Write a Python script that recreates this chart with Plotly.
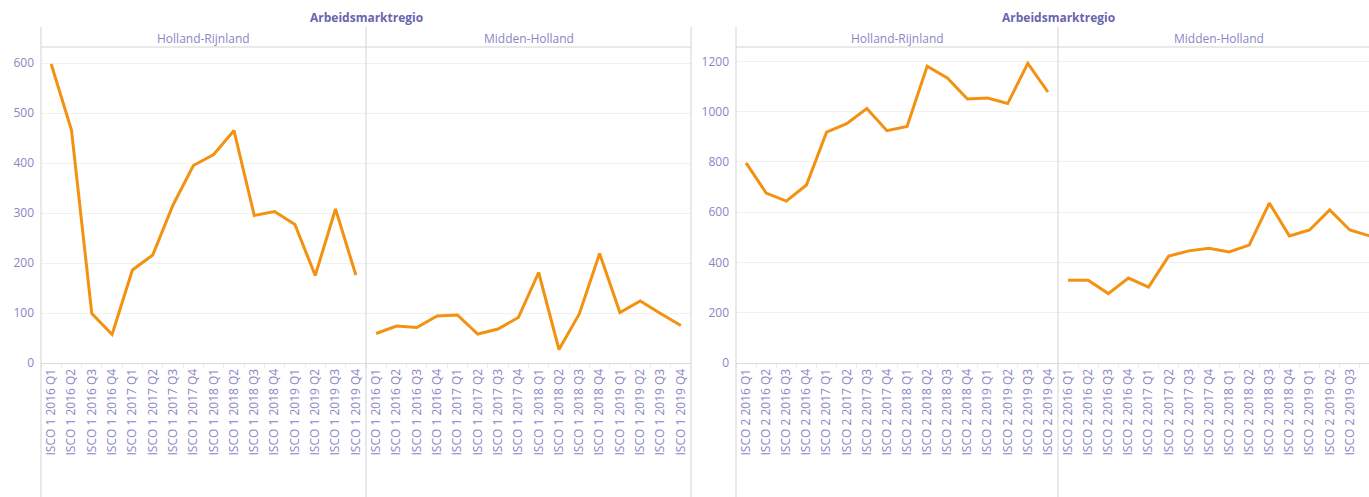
import plotly.graph_objects as go

W, H = 1369, 497

quarters = ["2016 Q1", "2016 Q2", "2016 Q3", "2016 Q4",
            "2017 Q1", "2017 Q2", "2017 Q3", "2017 Q4",
            "2018 Q1", "2018 Q2", "2018 Q3", "2018 Q4",
            "2019 Q1", "2019 Q2", "2019 Q3", "2019 Q4"]
isco1_labels = ["ISCO 1 " + q for q in quarters]
isco2_labels = ["ISCO 2 " + q for q in quarters]

regions = ["Holland-Rijnland", "Midden-Holland"]
group_title = "Arbeidsmarktregio"

hr_isco1 = [598, 466, 99, 57, 186, 216, 316, 395, 417, 465, 295, 303, 277, 175, 308, 176]
mh_isco1 = [59, 74, 71, 94, 96, 58, 68, 91, 181, 27, 98, 219, 101, 124, 99, 75]
hr_isco2 = [796, 676, 644, 708, 918, 952, 1012, 924, 941, 1181, 1134, 1050, 1054, 1032, 1192, 1078]
mh_isco2 = [329, 329, 276, 338, 302, 425, 446, 456, 442, 469, 636, 505, 529, 609, 529, 505]

left_ticks = [0, 100, 200, 300, 400, 500, 600]
right_ticks = [0, 200, 400, 600, 800, 1000, 1200]

ORANGE = "#f39110"
TXT = "#8a86c4"
TITLE = "#6a64ad"
GRID = "#f1f1f1"
SEP = "#d3d3d3"
FONT = "Open Sans"

def px(x):
    return x / W

def py(y):
    return 1 - y / H

fig = go.Figure()
fig.add_trace(go.Scatter(x=isco1_labels, y=hr_isco1, xaxis="x", yaxis="y",
                         mode="lines", line=dict(color=ORANGE, width=3)))
fig.add_trace(go.Scatter(x=isco1_labels, y=mh_isco1, xaxis="x2", yaxis="y",
                         mode="lines", line=dict(color=ORANGE, width=3)))
fig.add_trace(go.Scatter(x=isco2_labels, y=hr_isco2, xaxis="x3", yaxis="y2",
                         mode="lines", line=dict(color=ORANGE, width=3)))
fig.add_trace(go.Scatter(x=isco2_labels, y=mh_isco2, xaxis="x4", yaxis="y2",
                         mode="lines", line=dict(color=ORANGE, width=3)))

ydom = [py(363), py(47)]
panels = [(41, 366), (366, 691), (736, 1058), (1058, 1369)]
band = 322 / 16

def xaxis_cfg(dom, anchor, rng):
    return dict(domain=[px(dom[0]), px(dom[1])], anchor=anchor, type="category",
                range=rng, showgrid=False, zeroline=False, automargin=False,
                showline=True, linecolor="#dcdcdc", linewidth=1,
                ticks="outside", tickson="boundaries", ticklen=4, tickcolor="#ececec",
                tickangle=-90, tickfont=dict(family=FONT, size=12, color=TXT),
                fixedrange=True)

def yaxis_cfg(anchor, rng, tv):
    return dict(domain=ydom, anchor=anchor, range=rng, tickvals=tv, automargin=False,
                showgrid=True, gridcolor=GRID, gridwidth=1, zeroline=False,
                showline=False, ticks="", ticklabelstandoff=6,
                tickfont=dict(family=FONT, size=12, color=TXT), fixedrange=True)

fig.update_layout(
    width=W, height=H, margin=dict(l=0, r=0, t=0, b=0, pad=0),
    paper_bgcolor="white", plot_bgcolor="white", showlegend=False,
    xaxis=xaxis_cfg(panels[0], "y", [-0.5, 15.5]),
    xaxis2=xaxis_cfg(panels[1], "y", [-0.5, 15.5]),
    xaxis3=xaxis_cfg(panels[2], "y2", [-0.5, 15.5]),
    xaxis4=xaxis_cfg(panels[3], "y2", [-0.5, -0.5 + (1369 - 1058) / band]),
    yaxis=yaxis_cfg("x", [0, 632], left_ticks),
    yaxis2=yaxis_cfg("x3", [0, 1257], right_ticks),
)

shapes = []
for xv in [41, 366, 691, 736, 1058]:
    shapes.append(dict(type="line", xref="paper", yref="paper",
                       x0=px(xv), x1=px(xv), y0=0, y1=py(27),
                       line=dict(color=SEP, width=1)))
for a, b in [(41, 691), (736, 1369)]:
    shapes.append(dict(type="line", xref="paper", yref="paper",
                       x0=px(a), x1=px(b), y0=py(47), y1=py(47),
                       line=dict(color=SEP, width=1)))
fig.update_layout(shapes=shapes)

ann = []
for cx in [366, 1058]:
    ann.append(dict(text="<b>" + group_title + "</b>", xref="paper", yref="paper",
                    x=px(cx), y=py(17), xanchor="center", yanchor="middle",
                    showarrow=False, font=dict(family=FONT, size=12, color=TITLE)))
for (a, b), name in zip(panels[:2] + [panels[2], (1058, 1380)], regions * 2):
    ann.append(dict(text=name, xref="paper", yref="paper",
                    x=px((a + b) / 2), y=py(38.5), xanchor="center", yanchor="middle",
                    showarrow=False, font=dict(family=FONT, size=12, color=TXT)))
fig.update_layout(annotations=ann)

fig.write_html("out.html", config={"displayModeBar": False},
               post_script="document.body.style.margin='0px';document.body.style.overflow='hidden';")
